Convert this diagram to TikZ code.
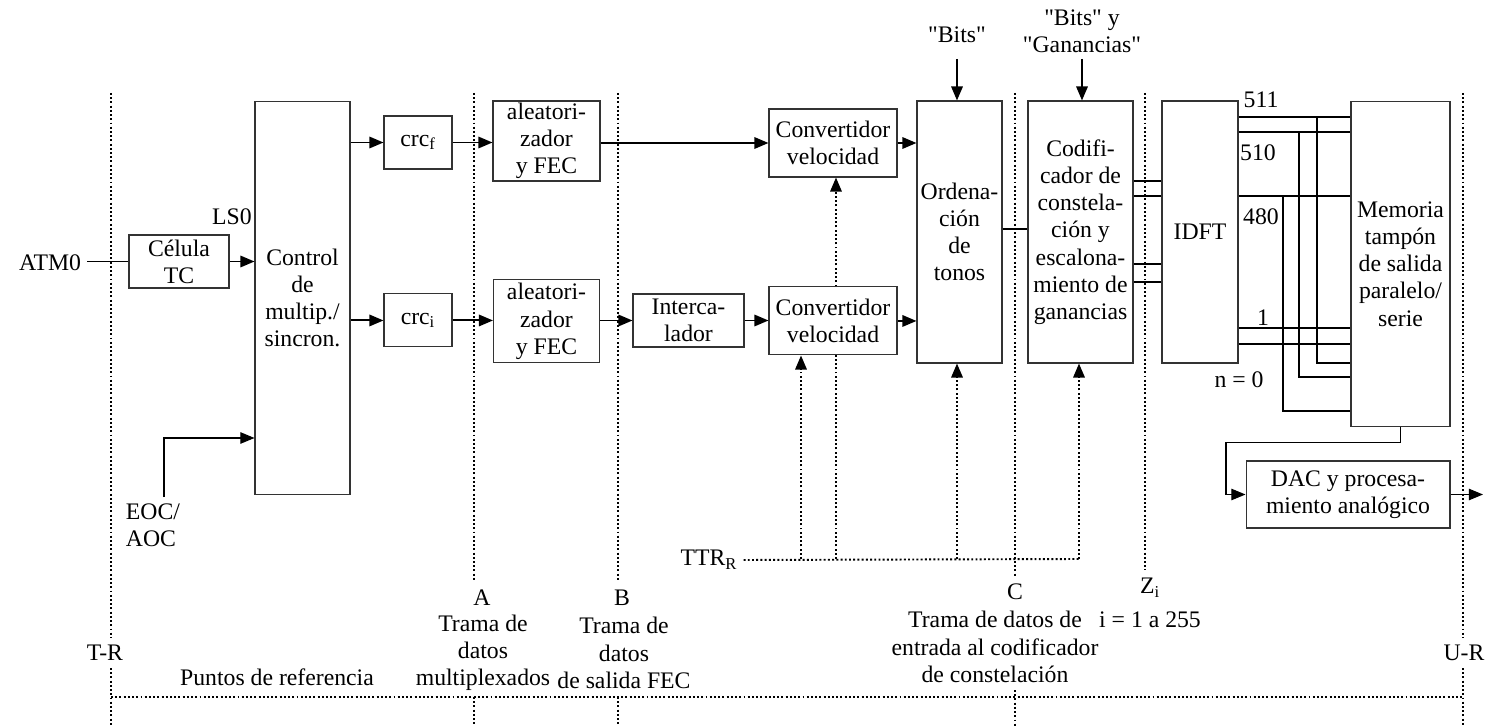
\documentclass[tikz,border=0pt]{standalone}
\usepackage{fontspec}
\setmainfont[Ligatures=TeXOff]{Liberation Serif}
\usetikzlibrary{arrows.meta}
\begin{document}
\begin{tikzpicture}[x=0.02cm, y=-0.02cm, font=\fontsize{13.5}{15.5}\selectfont, node distance=3.56cm]
% Define styles
\tikzstyle{block} = [rectangle, draw=black!80, line width=0.6pt, fill=white, align=center, inner sep=0pt]
\tikzstyle{arrow} = [-{Triangle[length=8pt,width=6.5pt]}, line width=1.1pt, draw=black]
\tikzstyle{thinarrow} = [-{Triangle[length=8pt,width=6.5pt]}, line width=0.6pt, draw=black]
\tikzstyle{wire} = [line width=0.6pt, draw=black]
\tikzstyle{bus} = [line width=1.3pt, draw=black]
\tikzstyle{refline} = [line width=1.1pt, dash pattern=on 1.1pt off 1.3pt]
\tikzstyle{dotarrow} = [refline, -{Triangle[length=8pt,width=6.5pt]}]

\useasboundingbox (0,0) rectangle (1492,726);

% Reference points (dotted lines)
\draw[refline] (111,93) -- (111,638) (111,668) -- (111,726);
\draw[refline] (474,93) -- (474,582) (474,697) -- (474,726);
\draw[refline] (618,93) -- (618,582) (618,697) -- (618,726);
\draw[refline] (1015,93) -- (1015,576) (1015,690) -- (1015,726);
\draw[refline] (1145,93) -- (1145,570);
\draw[refline] (1463,93) -- (1463,638) (1463,668) -- (1463,726);
\draw[refline] (111,697) -- (1463,697);

% Define nodes (blocks)
\node[block, minimum width=2cm, minimum height=1.06cm] (CelulaTC) at (179,261.5) {Célula\\TC};
\node[block, minimum width=1.9cm, minimum height=7.88cm] (Control) at (302.5,298) {Control\\de\\multip./\\sincron.};
\node[block, minimum width=1.36cm, minimum height=1.06cm] (CrcF) at (418,142.5) {crc\textsubscript{f}};
\node[block, minimum width=1.36cm, minimum height=1.06cm, below of=CrcF] (CrcI) {crc\textsubscript{i}};
\node[block, minimum width=2.14cm, minimum height=1.6cm] (AleaF) at (546.5,141) {aleatori-\\zador\\y FEC};
\node[block, minimum width=2.12cm, minimum height=1.66cm, below of=AleaF, node distance=3.61cm] (AleaI) {aleatori-\\zador\\y FEC};
\node[block, minimum width=2.22cm, minimum height=1.06cm] (Intercalador) at (688.5,320.5) {Interca-\\lador};
\node[block, minimum width=2.56cm, minimum height=1.36cm] (ConvF) at (833,143) {Convertidor\\velocidad};
\node[block, minimum width=2.56cm, minimum height=1.36cm, below of=ConvF] (ConvI) {Convertidor\\velocidad};
\node[block, minimum width=1.7cm, minimum height=5.24cm] (Ordenacion) at (959.5,232) {Ordena-\\ción\\de\\tonos};
\node[block, minimum width=2.1cm, minimum height=5.24cm] (Codificador) at (1080.5,232) {Codifi-\\cador de\\constela-\\ción y\\escalona-\\miento de\\ganancias};
\node[block, minimum width=1.52cm, minimum height=5.24cm] (IDFT) at (1200,232) {IDFT};
\node[block, minimum width=1.98cm, minimum height=6.52cm] (Memoria) at (1400.5,264) {Memoria\\tampón\\de salida\\paralelo/\\serie};
\node[block, minimum width=4.08cm, minimum height=1.34cm] (DAC) at (1348,494.5) {DAC y procesa-\\miento analógico};

% Define text nodes
\node (ATM0) at (50,263) {ATM0};
\node (LS0) at (232,217) {LS0};
\node[align=left] (EOCAOC) at (153,525) {EOC/\\AOC};
\node (TTR) at (709,560) {TTR\textsubscript{R}};
\node (BitsLbl) at (957,35) {"Bits"};
\node[align=center] (BitsGanLbl) at (1082,31) {"Bits" y\\"Ganancias"};
\node (N511) at (1261,100) {511};
\node (N510) at (1258,153) {510};
\node (N480) at (1261,217) {480};
\node (N1) at (1263,318) {1};
\node (N0) at (1239,380) {n = 0};

% Reference point labels
\node (TR) at (105,653) {T-R};
\node (UR) at (1464,653) {U-R};
\node (Puntos) at (277,677) {Puntos de referencia};
\node (PtoA) at (482,598) {A};
\node[align=center] (TramaA) at (483,653) {Trama de\\datos\\multiplexados};
\node (PtoB) at (622,598) {B};
\node[align=center] (TramaB) at (624,653) {Trama de\\datos\\de salida FEC};
\node (PtoC) at (1015,592) {C};
\node[align=center] (TramaC) at (995,647) {Trama de datos de\\entrada al codificador\\de constelación};
\node (PtoZ) at (1150,588) {Z\textsubscript{i}};
\node (RangoZ) at (1150,620) {i = 1 a 255};

% Coordinates
\coordinate (EOCtop) at (164,497);
\coordinate (BitsIn) at (957,59);
\coordinate (GanIn) at (1082,59);
\coordinate (Salida) at (1483,494.5);

% Relationships (arrows)
\draw[line width=1.1pt] (ATM0.east |- CelulaTC.west) -- (CelulaTC.west);
\draw[arrow] (CelulaTC.east) -- (Control.west |- CelulaTC.east);
\draw[thinarrow] (EOCtop) |- (Control.west |- 0,438);
\draw[arrow] (Control.east |- CrcF.west) -- (CrcF.west);
\draw[arrow] (Control.east |- CrcI.west) -- (CrcI.west);
\draw[arrow] (CrcF.east) -- (CrcF.east -| AleaF.west);
\draw[arrow] (CrcI.east) -- (CrcI.east -| AleaI.west);
\draw[arrow] (AleaF.east |- ConvF.west) -- (ConvF.west);
\draw[arrow] (AleaI.east |- Intercalador.west) -- (Intercalador.west);
\draw[arrow] (Intercalador.east) -- (Intercalador.east -| ConvI.west);
\draw[arrow] (ConvF.east) -- (ConvF.east -| Ordenacion.west);
\draw[arrow] (ConvI.east) -- (ConvI.east -| Ordenacion.west);
\draw[arrow] (BitsIn) -- (BitsIn |- Ordenacion.north);
\draw[arrow] (GanIn) -- (GanIn |- Codificador.north);
\draw[line width=1.1pt] (Ordenacion.east |- 0,229) -- (Codificador.west |- 0,229);
\foreach \y in {181,196,264,282}
  \draw[bus] (Codificador.east |- 0,\y) -- (IDFT.west |- 0,\y);
\foreach \y in {117,132,196,328,344}
  \draw[bus] (IDFT.east |- 0,\y) -- (Memoria.west |- 0,\y);
\draw[wire] (1317,117) |- (Memoria.west |- 0,363);
\draw[wire] (1299,132) |- (Memoria.west |- 0,377);
\draw[wire] (1283,196) |- (Memoria.west |- 0,411);
\draw[thinarrow] (Memoria.south) -- ++(0,15) -| (1226,494.5) -- (DAC.west);
\draw[thinarrow] (DAC.east) -- (Salida);

% TTR distribution (dotted)
\draw[refline] (TTR.east) -- (1079,559);
\draw[dotarrow] (801,559) -- (ConvI.south -| 801,0);
\draw[refline] (836,559) -- (ConvI.south -| 836,0);
\draw[dotarrow] (ConvI.north -| 836,0) -- (ConvF.south -| 836,0);
\draw[dotarrow] (957,559) -- (Ordenacion.south -| 957,0);
\draw[dotarrow] (1079,559) -- (Codificador.south -| 1079,0);

\end{tikzpicture}
\end{document}
